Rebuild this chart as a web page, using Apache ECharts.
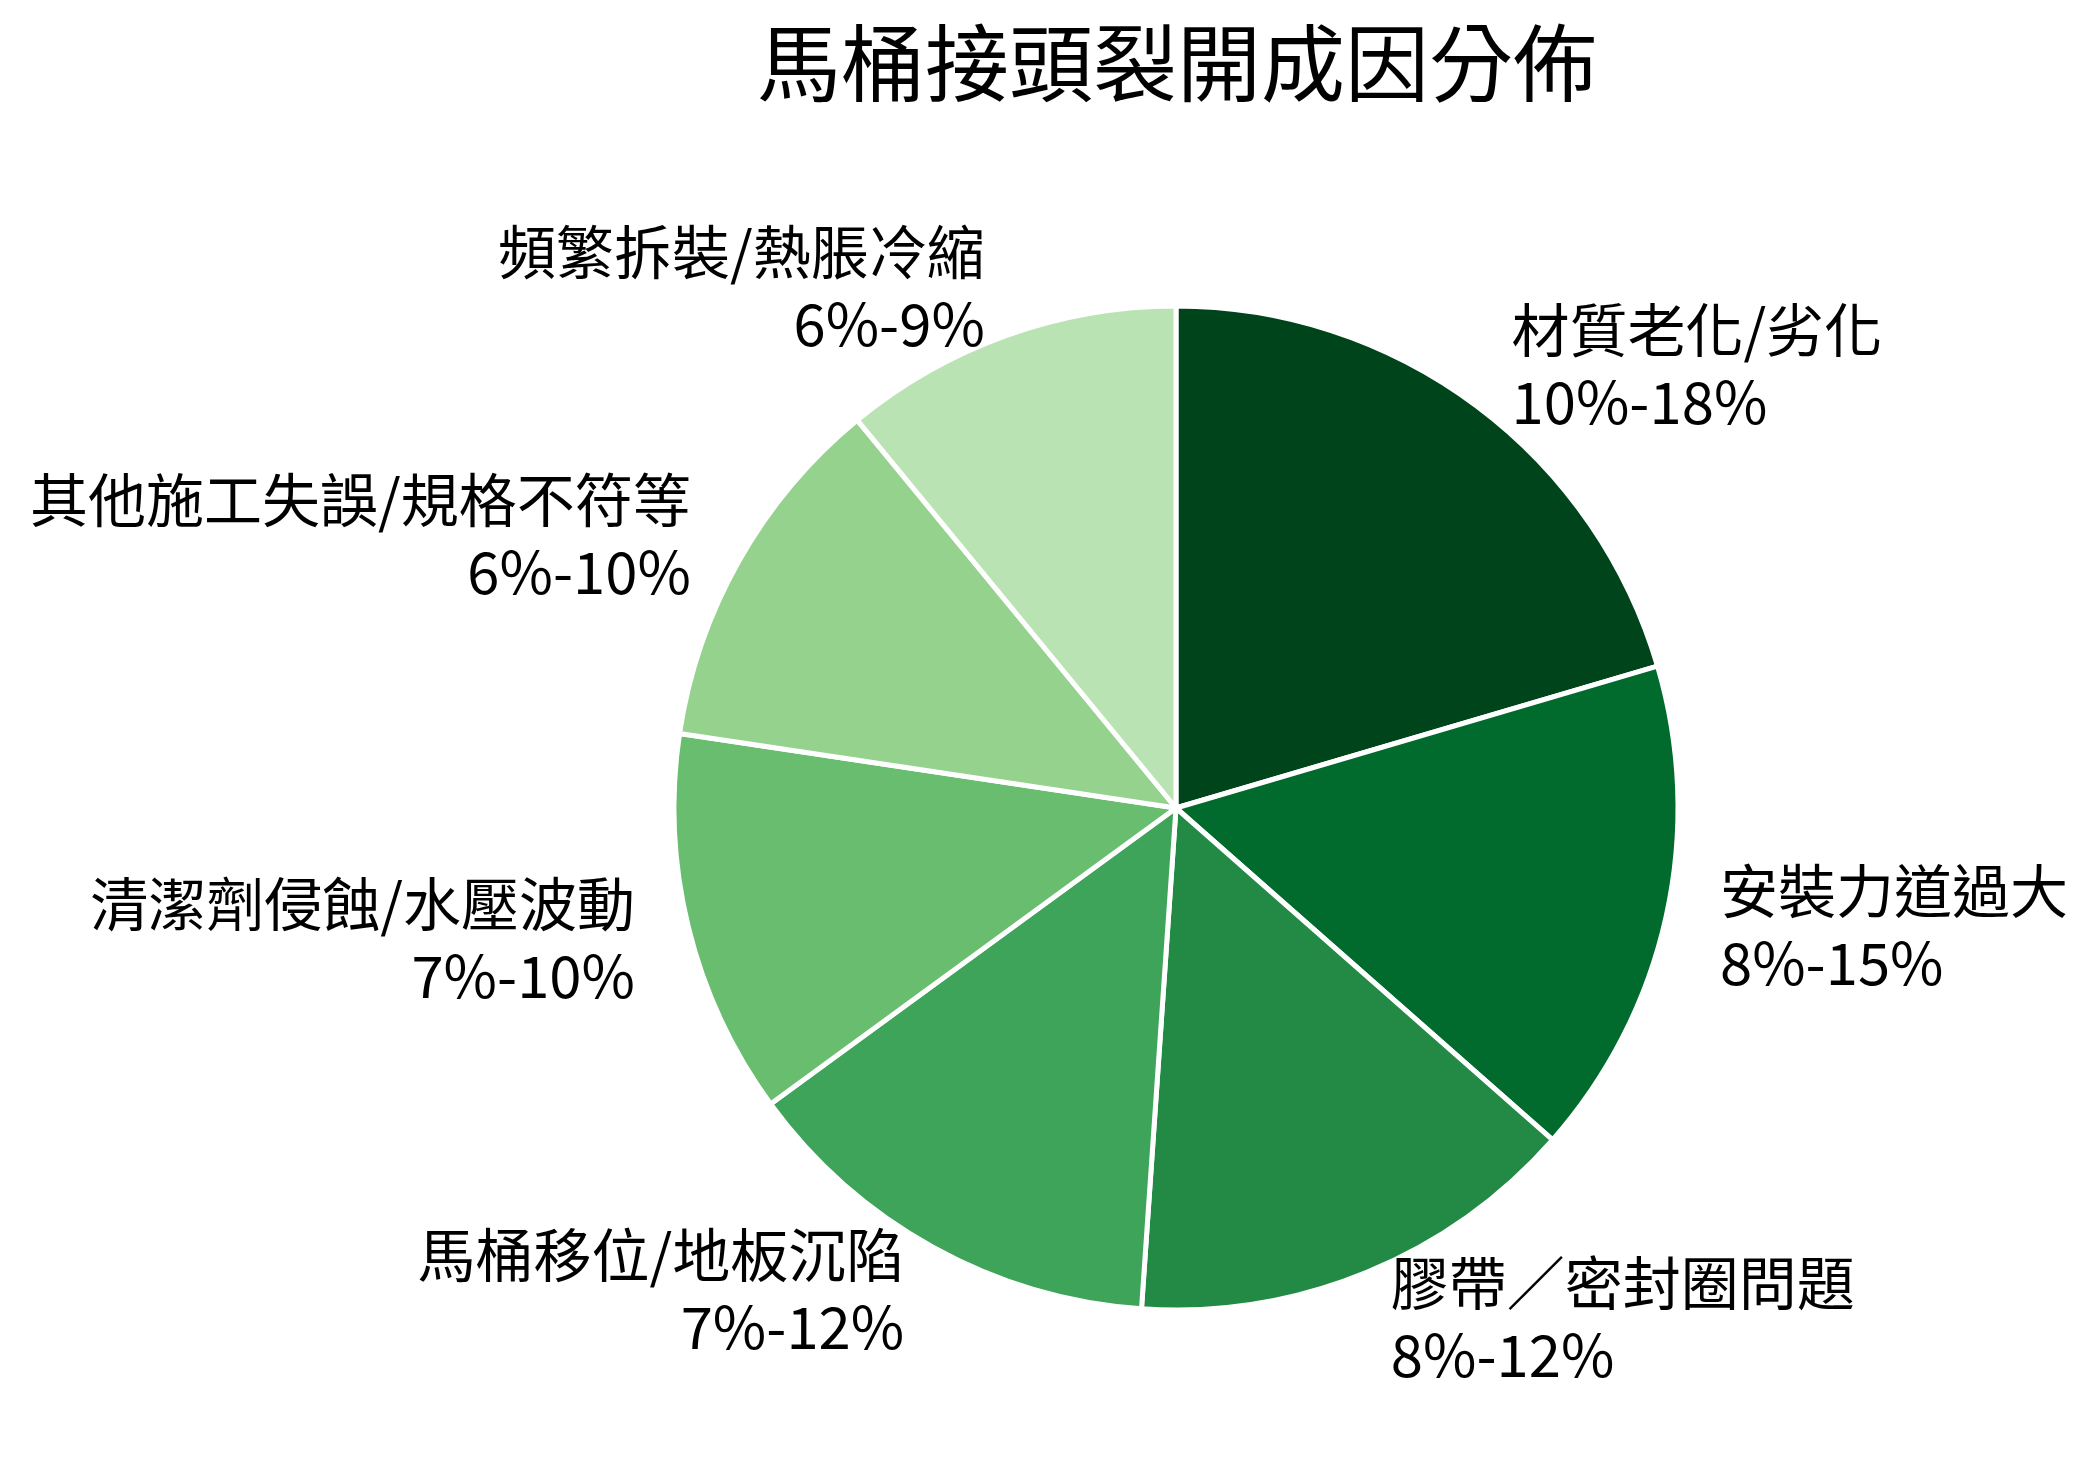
<!DOCTYPE html>
<html>
<head>
<meta charset="utf-8">
<script src="https://cdn.jsdelivr.net/npm/echarts@6/dist/echarts.min.js"></script>
<style>
html,body{margin:0;padding:0;background:#fff;}
#chart{width:2096px;height:1468px;}
</style>
</head>
<body>
<div id="chart"></div>
<script>
const titleText = '馬桶接頭裂開成因分佈';
const categories = ['材質老化/劣化', '安裝力道過大', '膠帶／密封圈問題', '馬桶移位/地板沉陷', '清潔劑侵蝕/水壓波動', '其他施工失誤/規格不符等', '頻繁拆裝/熱脹冷縮'];
const rangeLabels = ['10%-18%', '8%-15%', '8%-12%', '7%-12%', '7%-10%', '6%-10%', '6%-9%'];
const values = [14, 11, 10, 9.5, 8.5, 8, 7.5];
const colors = ['#00441b', '#006b2d', '#228a44', '#3da45a', '#69bd6f', '#94d28e', '#b9e3b2'];

const chart = echarts.init(document.getElementById('chart'));
const data = categories.map((c, i) => ({
  name: c,
  value: values[i],
  range: rangeLabels[i],
  itemStyle: { color: colors[i] }
}));

chart.setOption({
  backgroundColor: '#ffffff',
  animation: false,
  title: {
    text: titleText,
    left: 752,
    top: 14,
    textStyle: {
      fontFamily: 'Noto Sans CJK TC',
      fontSize: 84,
      fontWeight: 'normal',
      color: '#000000',
      lineHeight: 88
    }
  },
  series: [{
    type: 'pie',
    center: [1176, 808],
    radius: 502,
    startAngle: 90,
    clockwise: true,
    avoidLabelOverlap: false,
    data: data,
    itemStyle: { borderColor: '#ffffff', borderWidth: 5 },
    label: {
      show: true,
      position: 'outside',
      formatter: p => p.name + '\n' + p.data.range,
      fontFamily: 'Noto Sans CJK TC',
      fontSize: 58,
      lineHeight: 72,
      color: '#000000',
      distanceToLabelLine: 5
    },
    labelLine: { show: false, length: 50, length2: 0 },
    emphasis: { disabled: true }
  }]
});
</script>
</body>
</html>
